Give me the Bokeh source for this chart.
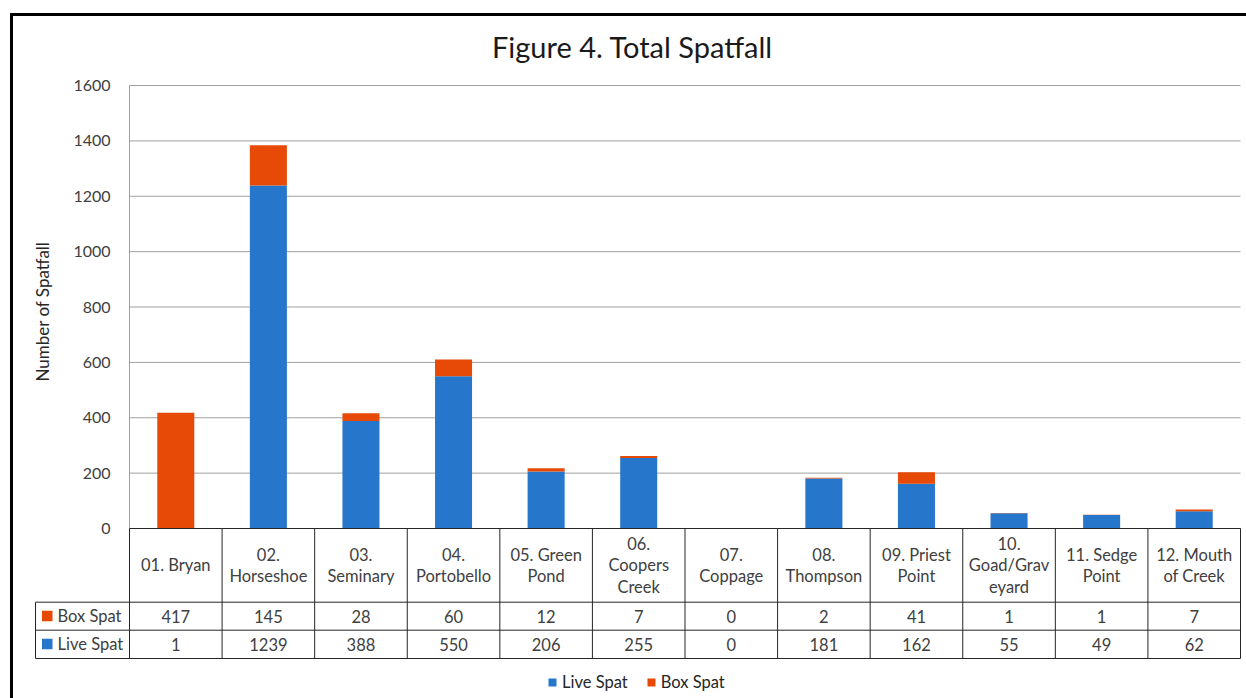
import math
from bokeh.plotting import figure
from bokeh.models import (ColumnDataSource, Range1d, LinearAxis, FixedTicker,
                          Label, BoxAnnotation, Legend, LegendItem)
from bokeh.core.properties import value
from bokeh.embed import file_html
from bokeh.resources import INLINE

# ---------------- data ----------------
categories = ["01. Bryan", "02. Horseshoe", "03. Seminary", "04. Portobello",
              "05. Green Pond", "06. Coopers Creek", "07. Coppage", "08. Thompson",
              "09. Priest Point", "10. Goad/Graveyard", "11. Sedge Point", "12. Mouth of Creek"]
category_labels = ["01. Bryan", "02.\nHorseshoe", "03.\nSeminary", "04.\nPortobello",
                   "05. Green\nPond", "06.\nCoopers\nCreek", "07.\nCoppage", "08.\nThompson",
                   "09. Priest\nPoint", "10.\nGoad/Grav\neyard", "11. Sedge\nPoint", "12. Mouth\nof Creek"]
live_spat = [1, 1239, 388, 550, 206, 255, 0, 181, 162, 55, 49, 62]
box_spat = [417, 145, 28, 60, 12, 7, 0, 2, 41, 1, 1, 7]
series_names = ["Live Spat", "Box Spat"]
y_ticks = [0, 200, 400, 600, 800, 1000, 1200, 1400, 1600]
title_text = "Figure 4. Total Spatfall"
y_title = "Number of Spatfall"

# ---------------- style / layout ----------------
BLUE = "#2677CB"
ORANGE = "#E64A06"
FONT = "Lato"
TXT = "#404040"
LINE = "#262626"
W, H = 1246, 698
PX_X0, PX_XN = 129, 1240        # pixel of first / last column edge
PX_YTOP, PX_Y0 = 85, 528         # pixel of top tick / zero line
N = len(categories)
YMAX = y_ticks[-1]
ux = N / (PX_XN - PX_X0)
uy = YMAX / (PX_Y0 - PX_YTOP)


def X(px):
    return (px - PX_X0) * ux


def Y(py):
    return (PX_Y0 - py) * uy


ROW_BOX_T, ROW_LIVE_T, TABLE_B = 601.7, 629.7, 658
LABEL_L = 35

p = figure(width=W, height=H, title=None,
           x_range=Range1d(X(0), X(W)), y_range=Range1d(Y(H), Y(0)),
           x_axis_type=None, y_axis_type=None,
           output_backend="svg", toolbar_location=None,
           min_border=0, outline_line_color=None,
           background_fill_color="white", border_fill_color="white")

ticker = FixedTicker(ticks=y_ticks)
yaxis = LinearAxis(ticker=ticker, fixed_location=0, axis_line_color=None,
                   major_tick_line_color=None, minor_tick_line_color=None,
                   major_tick_out=0, major_tick_in=0, major_label_standoff=19,
                   major_label_text_font=FONT, major_label_text_font_size="16px",
                   major_label_text_color=TXT)
p.add_layout(yaxis, "left")

# horizontal gridlines at the tick values, across the plot columns
p.segment(x0=[0] * len(y_ticks), y0=y_ticks, x1=[N] * len(y_ticks), y1=y_ticks,
          line_color="#a0a0a0", line_width=1)
# value axis line
p.segment(x0=[0], y0=[0], x1=[0], y1=[YMAX], line_color="#a0a0a0", line_width=1)

# bars
xs = [i + 0.5 for i in range(N)]
src = ColumnDataSource(dict(x=xs, cat=categories, live=live_spat, box=box_spat))
rs = p.vbar_stack(["live", "box"], x="x", width=0.4, color=[BLUE, ORANGE],
                  line_width=0, source=src)

# data table grid
edges = list(range(N + 1))
p.segment(x0=edges, y0=[0] * len(edges), x1=edges, y1=[Y(TABLE_B)] * len(edges),
          line_color=LINE, line_width=1)
hy = [0, Y(ROW_BOX_T), Y(ROW_LIVE_T), Y(TABLE_B)]
p.segment(x0=[0] + [X(LABEL_L)] * 3, y0=hy, x1=[N] * 4, y1=hy,
          line_color=LINE, line_width=1)
p.segment(x0=[X(LABEL_L)], y0=[Y(ROW_BOX_T)], x1=[X(LABEL_L)], y1=[Y(TABLE_B)],
          line_color=LINE, line_width=1)

# table text
p.text(x=xs, y=[Y((PX_Y0 + ROW_BOX_T) / 2)] * N, text=category_labels,
       text_align="center", text_baseline="middle", text_font=value(FONT),
       text_font_size="16.5px", text_color=TXT, text_line_height=1.08)
p.text(x=xs, y=[Y((ROW_BOX_T + ROW_LIVE_T) / 2)] * N, text=[str(v) for v in box_spat],
       text_align="center", text_baseline="middle", text_font=value(FONT),
       text_font_size="16.5px", text_color=TXT)
p.text(x=xs, y=[Y((ROW_LIVE_T + TABLE_B) / 2)] * N, text=[str(v) for v in live_spat],
       text_align="center", text_baseline="middle", text_font=value(FONT),
       text_font_size="16.5px", text_color=TXT)

# row labels with series keys
for name, col, top, bot in [(series_names[1], ORANGE, ROW_BOX_T, ROW_LIVE_T),
                            (series_names[0], BLUE, ROW_LIVE_T, TABLE_B)]:
    cy = (top + bot) / 2
    p.add_layout(BoxAnnotation(left=X(41.5), right=X(52), top=Y(cy - 5.5), bottom=Y(cy + 5),
                               fill_color=col, fill_alpha=1, line_color=None))
    p.add_layout(Label(x=X(57), y=Y(cy), text=name, text_align="left", text_baseline="middle",
                       text_font=FONT, text_font_size="16.5px", text_color=TXT))

# titles
p.add_layout(Label(x=X(632), y=Y(46), text=title_text, text_align="center",
                   text_baseline="middle", text_font=FONT, text_font_size="29px",
                   text_color="#1a1a1a"))
p.add_layout(Label(x=X(42), y=Y(311), text=y_title, angle=math.pi / 2, text_align="center",
                   text_baseline="middle", text_font=FONT, text_font_size="17px",
                   text_color=LINE))

# outer frame lines
p.add_layout(BoxAnnotation(left=X(9.5), right=X(12.5), top=Y(12.5), bottom=Y(H + 20),
                           fill_color="black", fill_alpha=1, line_color=None))
p.add_layout(BoxAnnotation(left=X(9.5), right=X(W + 20), top=Y(12.5), bottom=Y(15.5),
                           fill_color="black", fill_alpha=1, line_color=None))

legend = Legend(items=[LegendItem(label=series_names[0], renderers=[rs[0]]),
                       LegendItem(label=series_names[1], renderers=[rs[1]])],
                orientation="horizontal", location=(547, 6),
                glyph_width=10, glyph_height=10, label_standoff=5, spacing=18,
                padding=0, margin=0, border_line_color=None, background_fill_alpha=0,
                label_text_font=FONT, label_text_font_size="16.5px", label_text_color=LINE)
p.add_layout(legend)

open("out.html", "w").write(file_html(p, INLINE))
